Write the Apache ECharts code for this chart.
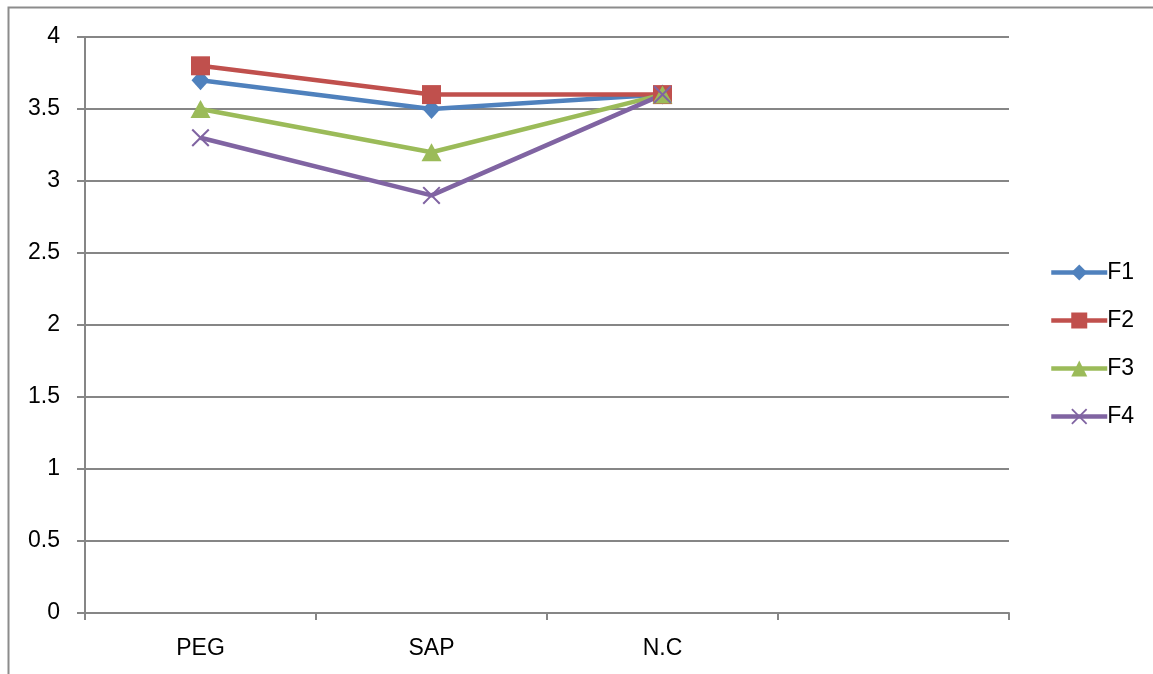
<!DOCTYPE html>
<html>
<head>
<meta charset="utf-8">
<script src="https://cdn.jsdelivr.net/npm/echarts@6/dist/echarts.min.js"></script>
<style>
  html, body { margin: 0; padding: 0; background: #fff; }
  #chart { width: 1153px; height: 674px; }
</style>
</head>
<body>
<div id="chart"></div>
<script>
// Categories (the fourth slot is an empty band on the axis)
const categories = ['PEG', 'SAP', 'N.C', ''];

// Series values
const f1 = [3.7, 3.5, 3.6, null];
const f2 = [3.8, 3.6, 3.6, null];
const f3 = [3.5, 3.2, 3.6, null];
const f4 = [3.3, 2.9, 3.6, null];

const seriesNames = ['F1', 'F2', 'F3', 'F4'];
const colors = ['#4F81BD', '#C0504D', '#9BBB59', '#8064A2'];

// filled "x" cross marker
const crossPath = 'path://M0,0.8L0.8,0L5,4.2L9.2,0L10,0.8L5.8,5L10,9.2L9.2,10L5,5.8L0.8,10L0,9.2L4.2,5Z';

const gridColor = '#868686';
const fontFamily = '"Liberation Sans Narrow", "Liberation Sans", Arial, sans-serif';

function lineSeries(name, data, color, symbol, size) {
  return {
    name: name,
    type: 'line',
    data: data,
    symbol: symbol,
    symbolSize: size,
    showSymbol: true,
    connectNulls: false,
    lineStyle: { color: color, width: 4.5 },
    itemStyle: { color: color },
    emphasis: { disabled: true },
    animation: false
  };
}

const chart = echarts.init(document.getElementById('chart'));
chart.setOption({
  animation: false,
  color: colors,
  grid: { left: 85, right: 144, top: 37, bottom: 61, containLabel: false },
  graphic: [{
    type: 'polyline',
    silent: true,
    shape: { points: [[8.5, 674], [8.5, 7.5], [1153, 7.5]] },
    style: { stroke: '#8c8c8c', lineWidth: 2, fill: null }
  }],
  legend: {
    orient: 'vertical',
    left: 1049,
    top: 261,
    padding: 0,
    itemWidth: 56,
    itemHeight: 20,
    itemGap: 25,
    data: seriesNames,
    lineStyle: { width: 4.5 },
    textStyle: { fontSize: 23, color: '#000', fontFamily: fontFamily, padding: [0, 0, 0, -5] }
  },
  xAxis: {
    type: 'category',
    data: categories,
    boundaryGap: true,
    axisLine: { show: true, lineStyle: { color: gridColor, width: 2 } },
    axisTick: { show: true, length: 7, lineStyle: { color: gridColor, width: 2 } },
    axisLabel: { fontSize: 23, color: '#000', fontFamily: fontFamily, margin: 24 },
    splitLine: { show: false }
  },
  yAxis: {
    type: 'value',
    min: 0,
    max: 4,
    interval: 0.5,
    axisLine: { show: true, lineStyle: { color: gridColor, width: 2 } },
    axisTick: { show: true, length: 8, lineStyle: { color: gridColor, width: 2 } },
    axisLabel: { fontSize: 23, color: '#000', fontFamily: fontFamily, margin: 25 },
    splitLine: { show: true, lineStyle: { color: gridColor, width: 2 } }
  },
  series: [
    lineSeries('F1', f1, colors[0], 'diamond', [18, 20]),
    lineSeries('F2', f2, colors[1], 'rect', 19),
    lineSeries('F3', f3, colors[2], 'triangle', [20, 18]),
    lineSeries('F4', f4, colors[3], crossPath, 18)
  ]
});
</script>
</body>
</html>
